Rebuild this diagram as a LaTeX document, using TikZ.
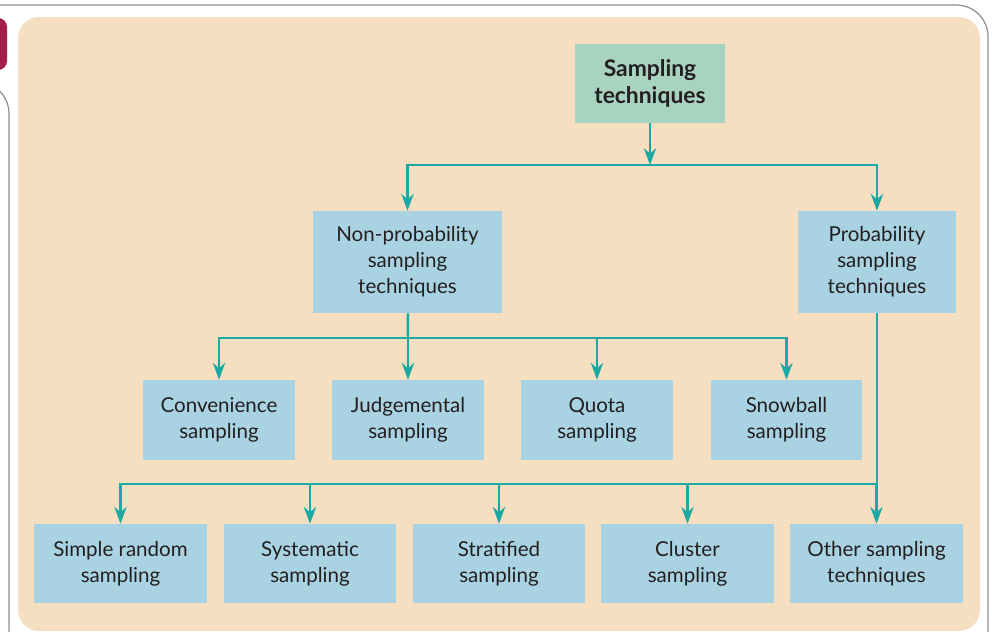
\documentclass[tikz,border=0pt]{standalone}
\usepackage{fontspec}
\setmainfont{Lato}
\usepackage{xcolor}
\definecolor{stpeach}{HTML}{F6DFC0}
\definecolor{stmint}{HTML}{A9D3C1}
\definecolor{stblue}{HTML}{A9D3E2}
\definecolor{stteal}{HTML}{1BA9A5}
\definecolor{stwine}{HTML}{A3204B}
\definecolor{stframe}{HTML}{8F8F85}
\definecolor{sttext}{HTML}{231F20}
\usetikzlibrary{arrows.meta,positioning}

\begin{document}
\begin{tikzpicture}[
  x=0.02cm, y=-0.02cm,
  every node/.style={font=\fontsize{11.7}{14.8}\selectfont, text=sttext},
  catbox/.style={fill=stblue,align=center,inner sep=0pt},
  rootbox/.style={fill=stmint,align=center,inner sep=0pt,font=\fontsize{13}{15}\selectfont\bfseries},
  wire/.style={draw=stteal,line width=1.4pt},
  link/.style={wire,-{Stealth[length=9.5pt,width=7pt,inset=3pt]}},
]
  \clip (0,0) rectangle (992,632);
  % frame and panel
  \draw[stframe,line width=0.7pt,rounded corners=18] (-10,5) -- (988,5) -- (988,660) -- (-10,660);
  \draw[stframe,line width=0.7pt,rounded corners=18] (-10,82) -- (9,82) -- (9,660) -- (60,660);
  \fill[stwine,rounded corners=5] (-10,18) rectangle (7,70);
  \fill[stpeach,rounded corners=12] (18,17) rectangle (980,631);
  % Root
  \node[rootbox,minimum width=3.02cm,minimum height=1.58cm] (root) at (650,83.5) {Sampling\\techniques};
  % Level 2
  \node[catbox,minimum width=3.78cm,minimum height=2.04cm] (nonprob) at (407.5,262) {Non-probability\\sampling\\techniques};
  \node[catbox,minimum width=3.16cm,minimum height=2.04cm] (prob) at (877,262) {Probability\\sampling\\techniques};
  % Level 3
  \node[catbox,minimum width=3.04cm,minimum height=1.6cm] (conv) at (219,420) {Convenience\\sampling};
  \node[catbox,minimum width=3.04cm,minimum height=1.6cm] (judg) at (408,420) {Judgemental\\sampling};
  \node[catbox,minimum width=3.04cm,minimum height=1.6cm] (quota) at (597,420) {Quota\\sampling};
  \node[catbox,minimum width=3.04cm,minimum height=1.6cm] (snow) at (786.5,420) {Snowball\\sampling};
  % Level 4
  \node[catbox,minimum width=3.46cm,minimum height=1.58cm] (simple) at (120.5,563.5) {Simple random\\sampling};
  \node[catbox,minimum width=3.46cm,minimum height=1.58cm] (syst) at (310,563.5) {Systematic\\sampling};
  \node[catbox,minimum width=3.46cm,minimum height=1.58cm] (strat) at (499,563.5) {Stratified\\sampling};
  \node[catbox,minimum width=3.46cm,minimum height=1.58cm] (clust) at (687.5,563.5) {Cluster\\sampling};
  \node[catbox,minimum width=3.46cm,minimum height=1.58cm] (other) at (876.5,563.5) {Other sampling\\techniques};
  % junctions
  \coordinate (j1) at (650,165);
  \coordinate (j2) at (408,338);
  \coordinate (j3) at (877,484);
  % root to level 2
  \draw[link] (root) -- (j1);
  \foreach \n in {nonprob,prob}
    \draw[link] (j1) -| (\n);
  % non-probability branch
  \draw[wire] (nonprob) -- (j2);
  \foreach \n in {conv,judg,quota,snow}
    \draw[link] (j2) -| (\n);
  % probability branch
  \draw[wire] (prob) -- (j3);
  \foreach \n in {simple,syst,strat,clust,other}
    \draw[link] (j3) -| (\n);
\end{tikzpicture}
\end{document}
